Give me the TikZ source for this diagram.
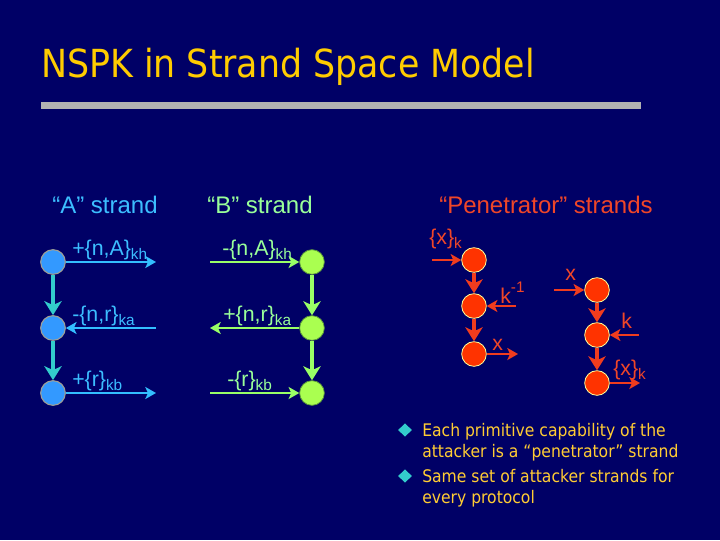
\documentclass[tikz,border=0pt]{standalone}
\usepackage{fontspec}
\setmainfont{Liberation Sans}
\newfontfamily\tahomaf{DejaVu Sans Condensed}
\usetikzlibrary{arrows.meta,shapes.geometric}
\definecolor{bg}{RGB}{0,0,102}
\definecolor{titley}{RGB}{255,204,0}
\definecolor{bulltext}{RGB}{255,204,51}
\definecolor{bargray}{RGB}{178,178,178}
\definecolor{afill}{RGB}{51,153,255}
\definecolor{aedge}{RGB}{160,160,150}
\definecolor{avert}{RGB}{51,204,204}
\definecolor{ahor}{RGB}{51,190,255}
\definecolor{atext}{RGB}{60,190,255}
\definecolor{bfill}{RGB}{170,255,80}
\definecolor{bvert}{RGB}{153,255,102}
\definecolor{btext}{RGB}{153,255,153}
\definecolor{pfill}{RGB}{255,51,0}
\definecolor{pedge}{RGB}{255,255,153}
\definecolor{parrow}{RGB}{240,60,30}
\definecolor{ptext}{RGB}{240,70,40}
\definecolor{bullc}{RGB}{51,204,204}
\newcommand\sbs[1]{\raisebox{-0.4ex}{\fontsize{11.5}{12}\selectfont #1}}
\newcommand\sps[1]{\raisebox{0.9ex}{\fontsize{11.5}{12}\selectfont #1}}
\begin{document}
\begin{tikzpicture}[x=0.75pt,y=-0.75pt,
  anode/.style={circle,minimum size=18.5pt,inner sep=0pt,fill=afill,draw=aedge,line width=0.8pt},
  bnode/.style={circle,minimum size=18.5pt,inner sep=0pt,fill=bfill,draw=bvert!60!black,line width=0.6pt},
  pnode/.style={circle,minimum size=18.5pt,inner sep=0pt,fill=pfill,draw=pedge,line width=0.6pt},
  vtip/.style={-{Stealth[length=10.5pt,width=13pt,inset=3pt]}},
  htip/.style={-{Stealth[length=8pt,width=9pt,inset=2pt]}},
  vA/.style={draw=avert,line width=3pt,vtip},
  hA/.style={draw=ahor,line width=1.8pt,htip},
  vB/.style={draw=bvert,line width=3pt,vtip},
  hB/.style={draw=bvert,line width=1.8pt,htip},
  vP/.style={draw=parrow,line width=3pt,vtip},
  hP/.style={draw=parrow,line width=2pt,htip},
  lbl/.style={anchor=base west,inner sep=0pt,font=\fontsize{16}{18}\selectfont},
  head/.style={inner sep=0pt,font=\fontsize{18}{21}\selectfont},
  bul/.style={anchor=base west,inner sep=0pt,text=bulltext,font=\tahomaf\fontsize{13}{15}\selectfont},
  diam/.style={diamond,fill=bullc,minimum width=10.5pt,minimum height=10pt,inner sep=0pt}
]
\useasboundingbox (0,0) rectangle (720,540);
\fill[bg] (0,0) rectangle (720,540);
% title
\node[anchor=base west,inner sep=0pt,text=titley,font=\tahomaf\fontsize{29}{33}\selectfont] (title) at (41,77) {NSPK in Strand Space Model};
\fill[bargray] (41,101.5) rectangle (641,108.5);
% headers
\node[head,text=atext] (ha) at (105,205) {“A” strand};
\node[head,text=btext] (hb) at (260,205) {“B” strand};
\node[head,text=ptext] (hp) at (546,205) {“Penetrator” strands};
% A strand
\node[anode] (a1) at (53,262) {};
\node[anode] (a2) at (53,328) {};
\node[anode] (a3) at (53,393) {};
\draw[vA] (a1) -- (a2);
\draw[vA] (a2) -- (a3);
\coordinate (a1e) at (156,262);
\coordinate (a2s) at (156,328);
\coordinate (a3e) at (156,393);
\draw[hA] (a1) -- (a1e);
\draw[hA] (a2s) -- (a2);
\draw[hA] (a3) -- (a3e);
\node[lbl,text=atext] (la1) at (72,255) {+\{n,A\}\sbs{kh}};
\node[lbl,text=atext] (la2) at (72,321) {-\{n,r\}\sbs{ka}};
\node[lbl,text=atext] (la3) at (72,386) {+\{r\}\sbs{kb}};
% B strand
\node[bnode] (b1) at (312,262) {};
\node[bnode] (b2) at (312,328) {};
\node[bnode] (b3) at (312,393) {};
\draw[vB] (b1) -- (b2);
\draw[vB] (b2) -- (b3);
\coordinate (b1s) at (210,262);
\coordinate (b2e) at (210,328);
\coordinate (b3s) at (210,393);
\draw[hB] (b1s) -- (b1);
\draw[hB] (b2) -- (b2e);
\draw[hB] (b3s) -- (b3);
\node[lbl,text=btext] (lb1) at (222,255) {-\{n,A\}\sbs{kh}};
\node[lbl,text=btext] (lb2) at (223,321) {+\{n,r\}\sbs{ka}};
\node[lbl,text=btext] (lb3) at (227,386) {-\{r\}\sbs{kb}};
% Penetrator strands
\node[pnode] (p1) at (474,260) {};
\node[pnode] (p2) at (474,306) {};
\node[pnode] (p3) at (474,354) {};
\draw[vP] (p1) -- (p2);
\draw[vP] (p2) -- (p3);
\coordinate (p1s) at (432,260);
\coordinate (p2s) at (516,306);
\coordinate (p3e) at (518,354);
\draw[hP] (p1s) -- (p1);
\draw[hP] (p2s) -- (p2);
\draw[hP] (p3) -- (p3e);
\node[lbl,text=ptext] (lp1) at (429,244) {\{x\}\sbs{k}};
\node[lbl,text=ptext] (lp2) at (500,303) {k\sps{-1}};
\node[lbl,text=ptext] (lp3) at (492,350) {x};
\node[pnode] (p4) at (597,290) {};
\node[pnode] (p5) at (597,335) {};
\node[pnode] (p6) at (597,383) {};
\draw[vP] (p4) -- (p5);
\draw[vP] (p5) -- (p6);
\coordinate (p4s) at (554,290);
\coordinate (p5s) at (639,335);
\coordinate (p6e) at (640,383);
\draw[hP] (p4s) -- (p4);
\draw[hP] (p5s) -- (p5);
\draw[hP] (p6) -- (p6e);
\node[lbl,text=ptext] (lp4) at (565,280) {x};
\node[lbl,text=ptext] (lp5) at (621,328) {k};
\node[lbl,text=ptext] (lp6) at (613,375) {\{x\}\sbs{k}};
% bullets
\node[diam] (d1) at (405,430) {};
\node[diam] (d2) at (405,476) {};
\node[bul] (t1) at (422,436) {Each primitive capability of the};
\node[bul] (t2) at (422,457) {attacker is a “penetrator” strand};
\node[bul] (t3) at (422,482) {Same set of attacker strands for};
\node[bul] (t4) at (422,503) {every protocol};
\end{tikzpicture}
\end{document}
